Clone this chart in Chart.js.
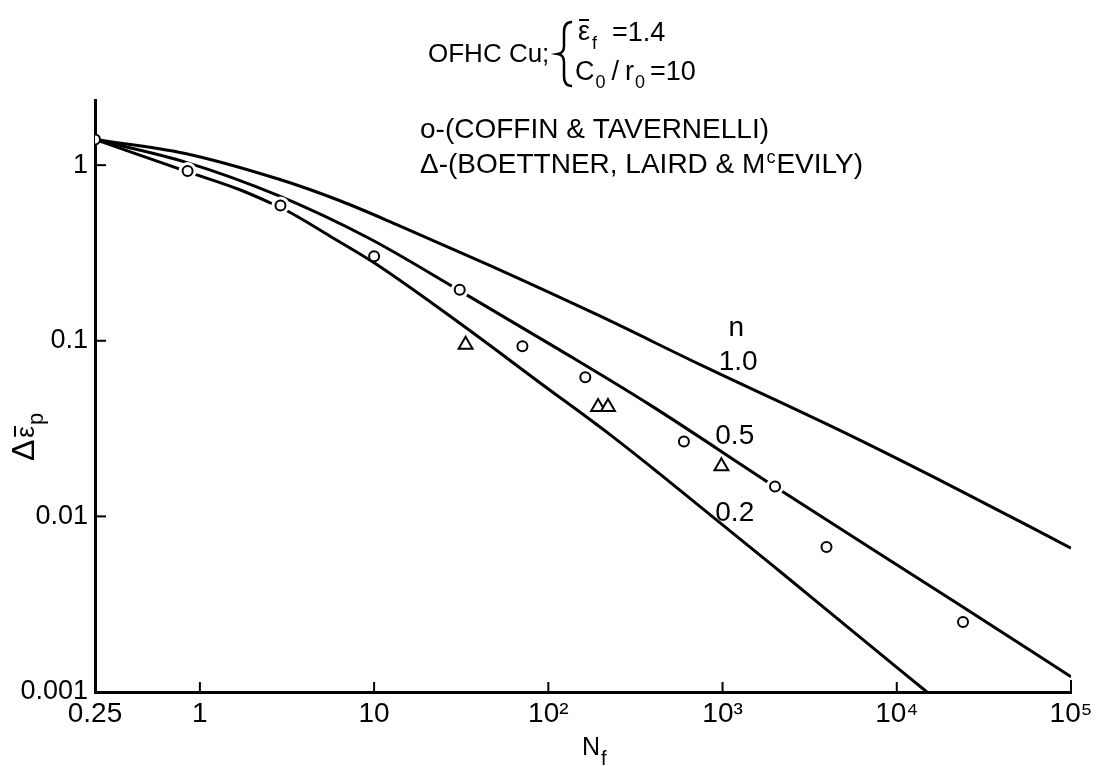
<!DOCTYPE html>
<html>
<head>
<meta charset="utf-8">
<script src="https://cdn.jsdelivr.net/npm/chart.js@4/dist/chart.umd.min.js"></script>
<style>
  html, body { margin: 0; padding: 0; background: #fff; }
  #wrap { width: 1096px; height: 766px; }
</style>
</head>
<body>
<div id="wrap"><canvas id="fatigueChart" width="1096" height="766"></canvas></div>
<script>
// axes: cycles to failure (x) and plastic strain range (y), both log
const xTicks = [0.25, 1, 10, 100, 1000, 10000, 100000];
const xTickLabels = ["0.25", "1", "10", "10²", "10³", "10⁴", "10⁵"];
const yTicks = [0.001, 0.01, 0.1, 1];
const yTickLabels = ["0.001", "0.01", "0.1", "1"];

// predicted curves, one per hardening exponent n
const curveNames = ["1.0", "0.5", "0.2"];
const cyclesN10 = [0.25, 0.81, 2.85, 6.37, 13.9, 45.7, 196, 734, 5330, 21950, 100000];
const strainN10 = [1.4, 1.17, 0.831, 0.627, 0.453, 0.2697, 0.1389, 0.0736, 0.0291, 0.0144, 0.0066];
const cyclesN05 = [0.25, 0.835, 2.78, 9.28, 30.4, 116, 381, 1990, 23000, 100000];
const strainN05 = [1.4, 1.038, 0.675, 0.3847, 0.195, 0.0888, 0.0433, 0.0148, 0.00313, 0.00122];
const cyclesN02 = [0.25, 0.836, 1.68, 2.50, 3.26, 5.53, 10.0, 32.2, 89, 225, 436, 2190, 5400, 14900];
const strainN02 = [1.4, 0.922, 0.727, 0.614, 0.541, 0.3965, 0.278, 0.1225, 0.0579, 0.0293, 0.01746, 0.00476, 0.00228, 0.001];

// test data
const coffinCycles = [0.25, 0.85, 2.9, 10, 31, 71, 163, 600, 2000, 3950, 24000];
const coffinStrain = [1.4, 0.925, 0.59, 0.303, 0.195, 0.093, 0.062, 0.0267, 0.0148, 0.0067, 0.0025];
const boettnerCycles = [33.5, 193, 220, 985];
const boettnerStrain = [0.095, 0.042, 0.042, 0.0193];

// circles that sit on a curve get a white gap around them
const gapIndex = [1, 2, 4, 8];

// where the n labels go (data coords)
const labelCycles = [1200, 1230, 1175, 1175];
const labelStrain = [0.118, 0.075, 0.0287, 0.0104];
const labelText = ["n", "1.0", "0.5", "0.2"];

const FONT = '"Liberation Sans", Arial, sans-serif';

function toPoints(xs, ys) {
  return xs.map((x, i) => ({ x: x, y: ys[i] }));
}

function curve(xs, ys) {
  return {
    data: toPoints(xs, ys),
    showLine: true,
    borderColor: "#000",
    borderWidth: 3,
    pointRadius: 0,
    cubicInterpolationMode: "monotone",
    order: 3
  };
}

// small helper for text with a lowered/raised piece
function txt(ctx, s, x, y, size) {
  ctx.font = size + "px " + FONT;
  ctx.fillText(s, x, y);
  return x + ctx.measureText(s).width;
}

// draws inward ticks, header, legend text, curve labels and axis titles
const paperPlugin = {
  id: "paper",
  afterDraw(chart) {
    const ctx = chart.ctx;
    const xs = chart.scales.x;
    const ys = chart.scales.y;
    const area = chart.chartArea;
    ctx.save();
    ctx.strokeStyle = "#000";
    ctx.fillStyle = "#000";
    ctx.lineCap = "butt";

    // inward tick marks
    ctx.lineWidth = 2;
    xTicks.slice(1).forEach(function (v, i, arr) {
      const px = xs.getPixelForValue(v);
      const len = i === arr.length - 1 ? 12 : 10;
      ctx.beginPath();
      ctx.moveTo(px, area.bottom);
      ctx.lineTo(px, area.bottom - len);
      ctx.stroke();
    });
    yTicks.slice(1).forEach(function (v) {
      const py = ys.getPixelForValue(v);
      ctx.beginPath();
      ctx.moveTo(area.left, py);
      ctx.lineTo(area.left + 11, py);
      ctx.stroke();
    });

    // header: OFHC Cu; { ef = 1.4 , C0/r0 = 10
    ctx.textBaseline = "alphabetic";
    ctx.textAlign = "left";
    txt(ctx, "OFHC Cu;", 428, 62, 26);

    const bx = 560;
    ctx.lineWidth = 2.5;
    ctx.beginPath();
    ctx.moveTo(bx + 12, 22);
    ctx.quadraticCurveTo(bx + 4, 22, bx + 4, 32);
    ctx.lineTo(bx + 4, 46);
    ctx.quadraticCurveTo(bx + 4, 53, bx - 2, 54);
    ctx.quadraticCurveTo(bx + 4, 55, bx + 4, 62);
    ctx.lineTo(bx + 4, 76);
    ctx.quadraticCurveTo(bx + 4, 86, bx + 12, 86);
    ctx.stroke();

    let hx = txt(ctx, "ε", 578, 40, 27);
    ctx.lineWidth = 2;
    ctx.beginPath();
    ctx.moveTo(579, 20);
    ctx.lineTo(hx - 1, 20);
    ctx.stroke();
    txt(ctx, "f", hx + 2, 49, 18);
    txt(ctx, "=1.4", 612, 41, 27);

    hx = txt(ctx, "C", 575, 80, 27);
    hx = txt(ctx, "0", hx + 1, 88, 18);
    hx = txt(ctx, "/", hx + 6, 80, 27);
    hx = txt(ctx, "r", hx + 6, 80, 27);
    hx = txt(ctx, "0", hx + 1, 88, 18);
    txt(ctx, "=10", hx + 5, 80, 27);

    // legend lines
    txt(ctx, "o-(COFFIN & TAVERNELLI)", 420, 138, 28);
    let lx = txt(ctx, "Δ-(BOETTNER, LAIRD & M", 420, 173, 28);
    lx = txt(ctx, "c", lx + 1, 163, 18);
    txt(ctx, "EVILY)", lx + 1, 173, 28);

    // curve labels
    ctx.textAlign = "center";
    ctx.textBaseline = "middle";
    labelText.forEach(function (t, i) {
      ctx.font = "28px " + FONT;
      ctx.fillText(t, xs.getPixelForValue(labelCycles[i]), ys.getPixelForValue(labelStrain[i]));
    });

    // x title N_f
    ctx.textAlign = "left";
    ctx.textBaseline = "alphabetic";
    txt(ctx, "N", 582, 755, 25);
    txt(ctx, "f", 601, 765, 20);

    // y title: delta eps-bar sub p, rotated
    ctx.translate(34, 461);
    ctx.rotate(-Math.PI / 2);
    let tx = txt(ctx, "Δ", 0, 0, 32) + 2;
    const ex = txt(ctx, "ε", tx, 0, 26);
    ctx.lineWidth = 2;
    ctx.beginPath();
    ctx.moveTo(tx + 1, -19);
    ctx.lineTo(ex, -19);
    ctx.stroke();
    txt(ctx, "p", ex + 1, 9, 22);

    ctx.restore();
  }
};

new Chart(document.getElementById("fatigueChart"), {
  type: "scatter",
  data: {
    datasets: [
      curve(cyclesN10, strainN10),
      curve(cyclesN05, strainN05),
      curve(cyclesN02, strainN02),
      {
        data: toPoints(coffinCycles, coffinStrain),
        pointStyle: "circle",
        pointRadius: function (c) { return gapIndex.includes(c.dataIndex) ? 9 : 0; },
        pointBackgroundColor: "#fff",
        pointBorderWidth: 0,
        pointBorderColor: "#fff",
        order: 2
      },
      {
        label: "COFFIN & TAVERNELLI",
        data: toPoints(coffinCycles, coffinStrain),
        pointStyle: "circle",
        pointRadius: 5,
        pointBorderWidth: 2,
        pointBorderColor: "#000",
        pointBackgroundColor: "#fff",
        order: 1
      },
      {
        label: "BOETTNER, LAIRD & McEVILY",
        data: toPoints(boettnerCycles, boettnerStrain),
        pointStyle: "triangle",
        pointRadius: 8,
        pointBorderWidth: 2,
        pointBorderColor: "#000",
        pointBackgroundColor: "#fff",
        order: 1
      }
    ]
  },
  options: {
    responsive: false,
    animation: false,
    events: [],
    layout: { padding: { top: 100, right: 25, left: 0, bottom: 0 } },
    plugins: {
      legend: { display: false },
      tooltip: { enabled: false }
    },
    scales: {
      x: {
        type: "logarithmic",
        min: 0.25,
        max: 100000,
        afterBuildTicks: function (s) { s.ticks = xTicks.map(function (v) { return { value: v }; }); },
        afterFit: function (s) { s.height = 74; s.paddingLeft = 0; s.paddingRight = 0; },
        ticks: {
          callback: function (v, i) { return xTickLabels[i]; },
          font: { family: FONT, size: 28 },
          color: "#000",
          padding: 5,
          maxRotation: 0,
          autoSkip: false
        },
        grid: { display: false, drawTicks: false },
        border: { display: true, color: "#000", width: 3 }
      },
      y: {
        type: "logarithmic",
        min: 0.001,
        max: 2.35,
        afterBuildTicks: function (s) { s.ticks = yTicks.map(function (v) { return { value: v }; }); },
        afterFit: function (s) { s.width = 95; s.paddingTop = 0; s.paddingBottom = 0; },
        ticks: {
          callback: function (v, i) { return yTickLabels[i]; },
          font: { family: FONT, size: 27 },
          color: "#000",
          padding: 7,
          autoSkip: false
        },
        grid: { display: false, drawTicks: false },
        border: { display: true, color: "#000", width: 3 }
      }
    }
  },
  plugins: [paperPlugin]
});
</script>
</body>
</html>
